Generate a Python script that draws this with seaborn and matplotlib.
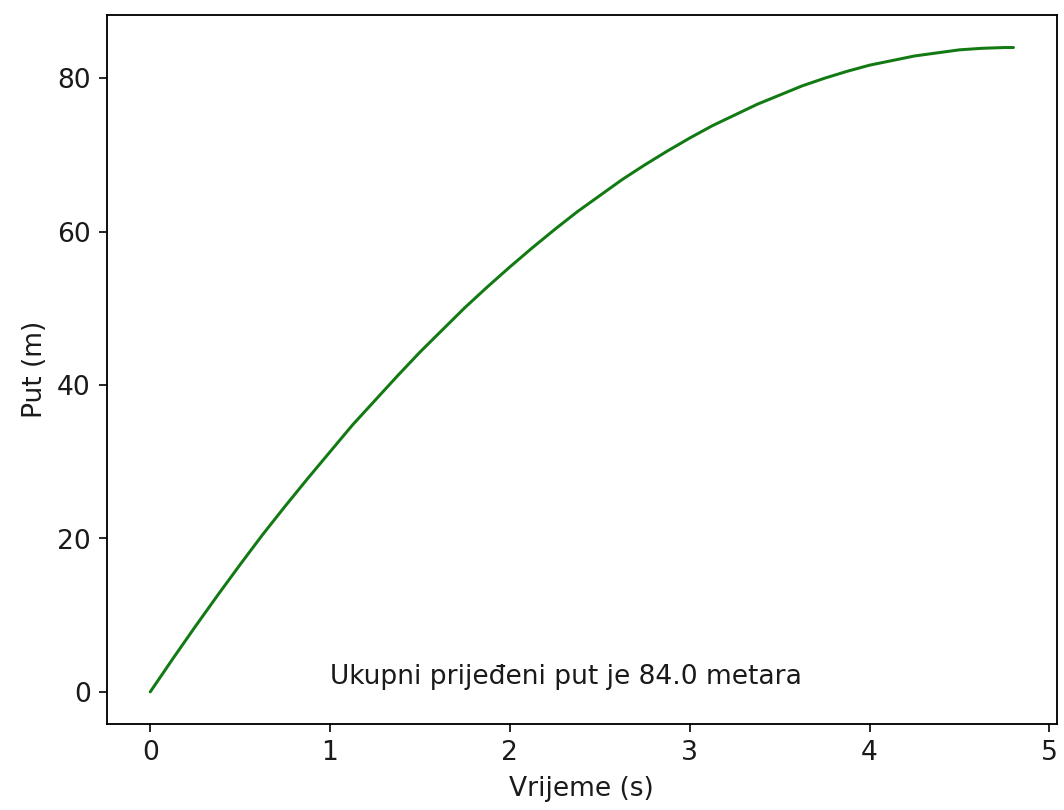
import numpy as np
import pandas as pd
import seaborn as sns
import matplotlib.pyplot as plt

# values
vrijeme = [0.0, 0.125, 0.25, 0.375, 0.5, 0.625, 0.75, 0.875, 1.0, 1.125,
           1.25, 1.375, 1.5, 1.625, 1.75, 1.875, 2.0, 2.125, 2.25, 2.375,
           2.5, 2.625, 2.75, 2.875, 3.0, 3.125, 3.25, 3.375, 3.5, 3.625,
           3.75, 3.875, 4.0, 4.125, 4.25, 4.375, 4.5, 4.625, 4.75, 4.8]
put = [0.0, 4.3, 8.5, 12.6, 16.6, 20.5, 24.2, 27.8, 31.3, 34.8,
       38.0, 41.2, 44.3, 47.2, 50.1, 52.8, 55.4, 57.9, 60.3, 62.6,
       64.7, 66.8, 68.7, 70.5, 72.2, 73.8, 75.2, 76.6, 77.8, 79.0,
       80.0, 80.9, 81.7, 82.3, 82.9, 83.3, 83.7, 83.9, 84.0, 84.0]
ukupno = 84.0

df = pd.DataFrame({'Vrijeme (s)': vrijeme, 'Put (m)': put})

sns.set_style('ticks', {'axes.edgecolor': 'black', 'text.color': '#1a1a1a',
                        'axes.labelcolor': '#1a1a1a', 'xtick.color': '#1a1a1a',
                        'ytick.color': '#1a1a1a'})
plt.rcParams['font.family'] = ['DejaVu Sans']
plt.rcParams['font.size'] = 11.5

fig, ax = plt.subplots(figsize=(6.41, 4.88))
sns.lineplot(data=df, x='Vrijeme (s)', y='Put (m)', color='#137a13', linewidth=1.3, ax=ax)
ax.text(1, 1, f'Ukupni prijeđeni put je {ukupno} metara', fontsize=11.5)
ax.set_xticks([0, 1, 2, 3, 4, 5])
ax.set_yticks([0, 20, 40, 60, 80])
ax.tick_params(labelsize=11.5)
ax.xaxis.label.set_size(11.5)
ax.yaxis.label.set_size(11.5)

fig.subplots_adjust(left=0.1006, right=0.993, top=0.981, bottom=0.106)
plt.savefig('out.png', dpi=166)
